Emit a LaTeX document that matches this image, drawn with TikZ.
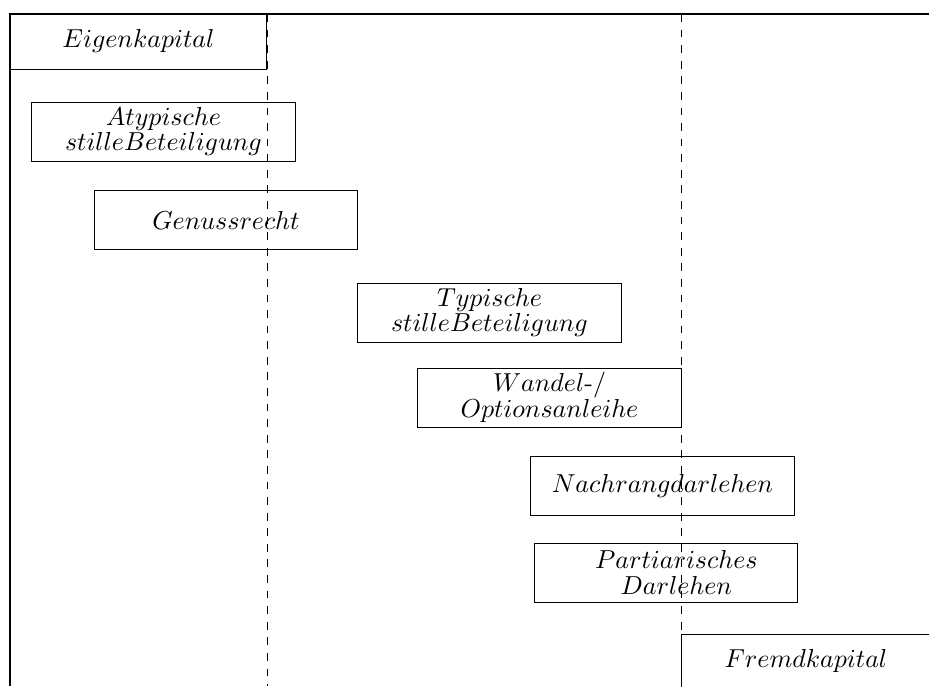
\documentclass[tikz,border=0pt]{standalone}
\begin{document}
\begin{tikzpicture}[x=0.385pt,y=-0.385pt,
  box/.style={draw,rectangle,inner sep=0pt,align=center,line width=0.35pt,
    font={\fontsize{10}{9.8}\selectfont},
    minimum width=101.3pt,minimum height=22.7pt},
  axis/.style={draw,line width=0.4pt},
  sep/.style={dashed,line width=0.35pt}]
\useasboundingbox (0,0) rectangle (929,686);
% frame
\coordinate (o) at (10,14);
\coordinate (tr) at (929,14);
\coordinate (bl) at (10,686);
\coordinate (d1t) at (267,14);
\coordinate (d1b) at (267,686);
\coordinate (d2t) at (681,14);
\coordinate (d2b) at (681,686);
\draw[axis] (tr) -- (o) -- (bl);
\draw[sep] (d1t) -- (d1b);
\draw[sep] (d2t) -- (d2b);
% boxes
\node[box,minimum width=98.9pt,minimum height=21.2pt] (ek) at (138.5,41.5) {$Eigenkapital$};
\node[box] (atyp) at (163.5,131.5) {$Atypische$\\$stilleBeteiligung$};
\node[box] (gen) at (226,220) {$Genussrecht$};
\node[box] (typ) at (489.5,312.5) {$Typische$\\$stilleBeteiligung$};
\node[box] (wan) at (549.5,397.5) {$Wandel$-/\\$Optionsanleihe$};
\node[box] (nach) at (662.5,485.5) {$Nachrangdarlehen$};
\node[box] (part) at (666,572.5) {\hspace*{8pt}$Partiarisches$\\\hspace*{8pt}$Darlehen$};
\node[box,minimum width=96.25pt,minimum height=20.8pt] (fk) at (806,661) {$Fremdkapital$};
\end{tikzpicture}
\end{document}
